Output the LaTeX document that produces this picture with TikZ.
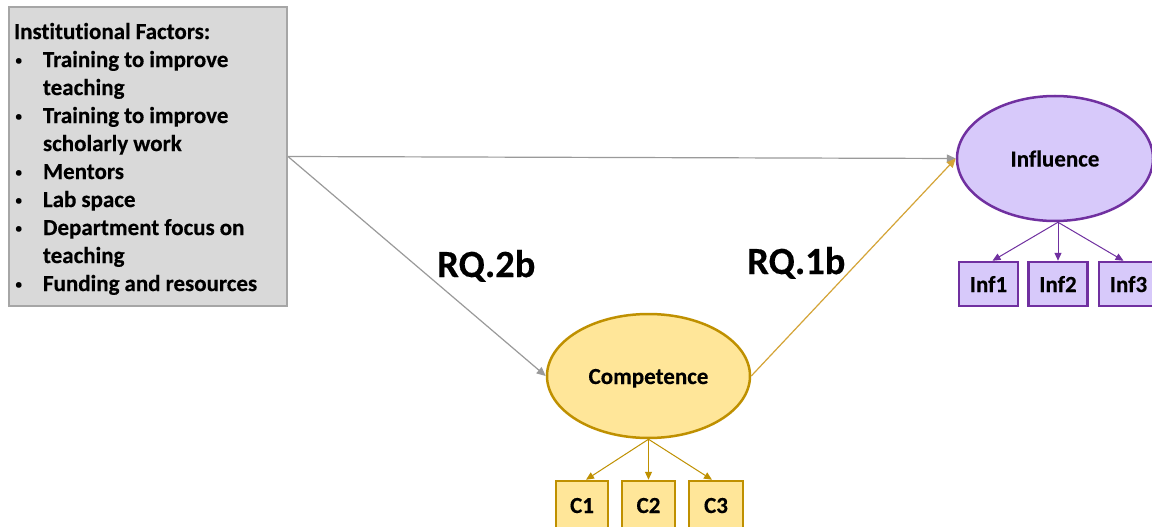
\documentclass[tikz,border=0pt]{standalone}
\usepackage{fontspec}
\setmainfont{Carlito}[Ligatures={NoCommon}, BoldFeatures={FakeBold=0.35}]
\usetikzlibrary{arrows.meta,shapes.geometric}
\definecolor{boxfill}{HTML}{D9D9D9}
\definecolor{boxline}{HTML}{A6A6A6}
\definecolor{lavfill}{HTML}{D7C9FA}
\definecolor{purpleline}{HTML}{7030A0}
\definecolor{goldfill}{HTML}{FFE699}
\definecolor{goldline}{HTML}{BF9000}
\definecolor{goldarrow}{HTML}{D4A437}
\definecolor{grayarrow}{HTML}{9A9A9A}
\newcommand{\bul}{\makebox[29pt][l]{\hspace{1.5pt}\raisebox{2.5pt}{\fontsize{13}{13}\selectfont•}}}
\newcommand{\tightsp}{\spaceskip=5pt\relax}
\tikzset{
  factbox/.style={draw=boxline, fill=boxfill, line width=2pt, rectangle,
    inner xsep=5pt, inner ysep=0pt, text width=268pt, align=left,
    minimum height=299pt, font=\bfseries\fontsize{23}{28}\selectfont},
  labfont/.style={font=\bfseries\fontsize{23}{26}\selectfont, text height=16pt, text depth=0pt},
  latinf/.style={ellipse, draw=purpleline, fill=lavfill, line width=2.5pt,
    minimum width=196pt, minimum height=125pt, inner sep=0pt, labfont},
  latcomp/.style={ellipse, draw=goldline, fill=goldfill, line width=2.5pt,
    minimum width=203pt, minimum height=124pt, inner sep=0pt, labfont},
  infbox/.style={rectangle, draw=purpleline, fill=lavfill, line width=2.5pt,
    minimum width=59pt, minimum height=44pt, inner sep=0pt, labfont},
  cbox/.style={rectangle, draw=goldline, fill=goldfill, line width=2.5pt,
    minimum width=53pt, minimum height=48pt, inner sep=0pt, labfont},
  rqlabel/.style={inner sep=0pt, anchor=base west, font=\bfseries\fontsize{38.5}{40}\selectfont},
  grayarr/.style={draw=grayarrow, line width=1.2pt, -{Triangle[length=9pt,width=8pt]}},
  goldarr/.style={draw=goldarrow, line width=1.2pt, -{Triangle[length=9pt,width=8pt]}},
  purparr/.style={draw=purpleline, line width=1pt, -{Triangle[length=8pt,width=7pt]}},
  cgarr/.style={draw=goldline, line width=1pt, -{Triangle[length=8pt,width=7pt]}},
}
\begin{document}
\begin{tikzpicture}[x=1pt, y=-1pt]
\useasboundingbox (0,0) rectangle (1152,527);
\fill[white] (0,0) rectangle (1152,527);

\node[factbox, anchor=north west] (inst) at (8,6) {\tightsp\rule{0pt}{21pt}Institutional Factors:\\
\bul Training to improve\\
\hspace*{29pt}teaching\\
\bul Training to improve\\
\hspace*{29pt}scholarly work\\
\bul Mentors\\
\bul Lab space\\
\bul Department focus on\\
\hspace*{29pt}teaching\\
\bul Funding and resources};

\node[latinf] (infl) at (1055,158.5) {Influence};
\node[latcomp] (comp) at (648.5,376) {Competence};

\node[infbox] (inf1) at (988.5,284) {Inf1};
\node[infbox] (inf2) at (1058,284) {Inf2};
\node[infbox] (inf3) at (1128.5,284) {Inf3};

\node[cbox, minimum width=52pt] (c1) at (582,505) {C1};
\node[cbox, minimum width=53pt] (c2) at (648.5,505) {C2};
\node[cbox, minimum width=54pt] (c3) at (716,505) {C3};

\node[rqlabel] (rq2) at (437,277) {RQ.2b};
\node[rqlabel] (rq1) at (747,274) {RQ.1b};

\draw[grayarr] (inst.east) -- (infl.west);
\draw[grayarr] (inst.east) -- (comp.west);
\draw[goldarr] (comp.east) -- (infl.west);

\draw[purparr] ([xshift=3pt]infl.south) -- ([xshift=4pt]inf1.north);
\draw[purparr] ([xshift=3pt]infl.south) -- (inf2.north);
\draw[purparr] ([xshift=3pt]infl.south) -- ([xshift=-5pt]inf3.north);

\draw[cgarr] (comp.south) -- ([xshift=4pt]c1.north);
\draw[cgarr] (comp.south) -- (c2.north);
\draw[cgarr] (comp.south) -- ([xshift=-4pt]c3.north);
\end{tikzpicture}
\end{document}
